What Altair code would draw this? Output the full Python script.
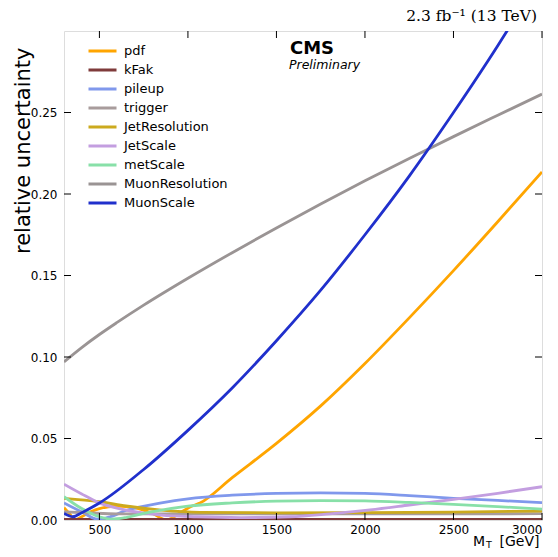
import altair as alt
import pandas as pd

# ---------------- data ----------------
series = ["pdf", "kFak", "pileup", "trigger", "JetResolution", "JetScale",
          "metScale", "MuonResolution", "MuonScale"]
colors = ["#ffa500", "#7f3b3b", "#8098ec", "#a89c9c", "#ccaa1e", "#c39ee0",
          "#88e0a8", "#9a9494", "#2030cc"]

pdf_mt = [300, 330, 362, 400, 450, 500, 600, 700, 800, 880, 950, 1012, 1068,
          1250, 1500, 1750, 2000, 2250, 2500, 2750, 3000]
pdf_val = [0.0075, 0.004, 0.0, 0.002, 0.005, 0.007, 0.0086, 0.0075, 0.004, 0.0,
           0.004, 0.008, 0.0104, 0.026, 0.047, 0.070, 0.096, 0.124, 0.153, 0.183, 0.2135]

kfak_mt = [300, 1000, 2000, 3000]
kfak_val = [0.0004, 0.0004, 0.0004, 0.0004]

pileup_mt = [300, 400, 490, 560, 650, 850, 1000, 1250, 1500, 1750, 2000, 2250,
             2500, 2750, 3000]
pileup_val = [0.0105, 0.005, 0.0005, 0.002, 0.0058, 0.0105, 0.013, 0.0152,
              0.0163, 0.0166, 0.0163, 0.015, 0.0133, 0.012, 0.0106]

trigger_mt = [300, 450, 600, 1000, 2000, 3000]
trigger_val = [0.005, 0.0043, 0.0038, 0.0037, 0.0037, 0.0039]

jetres_mt = [300, 500, 650, 850, 1068, 1500, 2000, 2500, 3000]
jetres_val = [0.0133, 0.0112, 0.0086, 0.0061, 0.0047, 0.0044, 0.0045, 0.0048, 0.0055]

jetscale_mt = [300, 400, 500, 650, 850, 1050, 1300, 1577, 1800, 2028, 2250,
               2500, 2750, 3000]
jetscale_val = [0.022, 0.016, 0.0105, 0.006, 0.003, 0.002, 0.0015, 0.002,
                0.0038, 0.0062, 0.0092, 0.0127, 0.0164, 0.0204]

met_mt = [300, 400, 500, 570, 650, 750, 1000, 1250, 1500, 1750, 2000, 2250,
          2500, 2750, 3000]
met_val = [0.0143, 0.007, 0.002, 0.0005, 0.0015, 0.004, 0.0085, 0.0105, 0.0116,
           0.0119, 0.0117, 0.0108, 0.0096, 0.0082, 0.0067]

muonres_mt = [300, 400, 500, 600, 750, 1000, 1250, 1500, 1750, 2000, 2250, 2500,
              2750, 3000]
muonres_val = [0.097, 0.1058, 0.1138, 0.1212, 0.1318, 0.1483, 0.164, 0.1792,
               0.1939, 0.2081, 0.2218, 0.2352, 0.2483, 0.2613]

muonscale_mt = [300, 350, 400, 500, 750, 1000, 1250, 1500, 1750, 2000, 2250,
                2500, 2750, 3000]
muonscale_val = [0.004, 0.002, 0.0045, 0.0104, 0.031, 0.055, 0.081, 0.110,
                 0.141, 0.175, 0.211, 0.250, 0.291, 0.335]

x_ticks = [500, 1000, 1500, 2000, 2500, 3000]
y_ticks = [0.0, 0.05, 0.10, 0.15, 0.20, 0.25]

# ---------------- table ----------------
curves = [
    ("pdf", pdf_mt, pdf_val), ("kFak", kfak_mt, kfak_val),
    ("pileup", pileup_mt, pileup_val), ("trigger", trigger_mt, trigger_val),
    ("JetResolution", jetres_mt, jetres_val), ("JetScale", jetscale_mt, jetscale_val),
    ("metScale", met_mt, met_val), ("MuonResolution", muonres_mt, muonres_val),
    ("MuonScale", muonscale_mt, muonscale_val),
]
rows = []
for name, mts, vals in curves:
    for m, v in zip(mts, vals):
        rows.append({"series": name, "mt": m, "val": v})
df = pd.DataFrame(rows)

W, H = 478, 489
TL = 7  # inward tick length
FONT = "DejaVu Sans"

xs = alt.Scale(domain=[300, 3000], nice=False, zero=False)
ys = alt.Scale(domain=[0, 0.3], nice=False, zero=False)

ax_x = alt.Axis(values=x_ticks, format="d", ticks=False, domain=False, grid=False,
                labelPadding=4, labelFontSize=12, labelFont=FONT, labelColor="black",
                title=None)
ax_y = alt.Axis(values=y_ticks, format=".2f", ticks=False, domain=False, grid=False,
                labelPadding=7, labelFontSize=12, labelFont=FONT, labelColor="black",
                title="relative uncertainty", titleFont=FONT, titleFontSize=21,
                titleFontWeight="normal", titleColor="black", titleAngle=270,
                titleAlign="right", titleBaseline="alphabetic", titleX=-35, titleY=16)

lines = alt.Chart(df).mark_line(clip=True, strokeWidth=2.8, interpolate="monotone").encode(
    x=alt.X("mt:Q", scale=xs, axis=ax_x),
    y=alt.Y("val:Q", scale=ys, axis=ax_y),
    color=alt.Color("series:N", sort=series,
                    scale=alt.Scale(domain=series, range=colors),
                    legend=alt.Legend(title=None, orient="none", legendX=23, legendY=13.5,
                                      symbolType="stroke", symbolSize=784,
                                      symbolStrokeWidth=3, labelFontSize=13,
                                      labelFont=FONT, labelColor="black",
                                      labelOffset=6, clipHeight=13, rowPadding=5)),
)

xt = pd.DataFrame({"mt": x_ticks})
yt = pd.DataFrame({"val": y_ticks[1:]})
tick_bottom = alt.Chart(xt).mark_rule(color="black", strokeWidth=1).encode(
    x=alt.X("mt:Q", scale=xs, axis=ax_x), y=alt.value(H), y2=alt.value(H - TL))
tick_top = alt.Chart(xt).mark_rule(color="black", strokeWidth=1).encode(
    x=alt.X("mt:Q", scale=xs, axis=ax_x), y=alt.value(0), y2=alt.value(TL))
tick_left = alt.Chart(yt).mark_rule(color="black", strokeWidth=1).encode(
    y=alt.Y("val:Q", scale=ys, axis=ax_y), x=alt.value(0), x2=alt.value(TL))
tick_right = alt.Chart(yt).mark_rule(color="black", strokeWidth=1).encode(
    y=alt.Y("val:Q", scale=ys, axis=ax_y), x=alt.value(W), x2=alt.value(W - TL))

def label(text, x, y, size, weight="normal", style="normal", font=FONT, align="left"):
    return alt.Chart(pd.DataFrame({"t": [text]})).mark_text(
        font=font, fontSize=size, fontWeight=weight, fontStyle=style, align=align,
        baseline="alphabetic", color="black").encode(
        x=alt.value(x), y=alt.value(y), text="t:N")

lumi = label("2.3 fb\u207b\u00b9 (13 TeV)", 473, -10, 15.5, font="DejaVu Serif", align="right")
cms = label("CMS", 226, 23, 18, weight="bold")
prelim = label("Preliminary", 225, 38, 12.5, style="italic")
xt_m = label("M", 409, 515, 14)
xt_t = label("T", 422, 516.5, 9.5)
xt_gev = label("[GeV]", 435.5, 515, 14)

chart = alt.layer(lines, tick_bottom, tick_top, tick_left, tick_right,
                  lumi, cms, prelim, xt_m, xt_t, xt_gev).properties(
    width=W, height=H,
    padding={"left": 56, "top": 23, "right": 8, "bottom": 29},
    autosize=alt.AutoSizeParams(type="none"),
).configure_view(stroke="#222222", strokeWidth=1).configure(background="white")

chart.save("out.html", embed_options={"renderer": "svg", "actions": False})
